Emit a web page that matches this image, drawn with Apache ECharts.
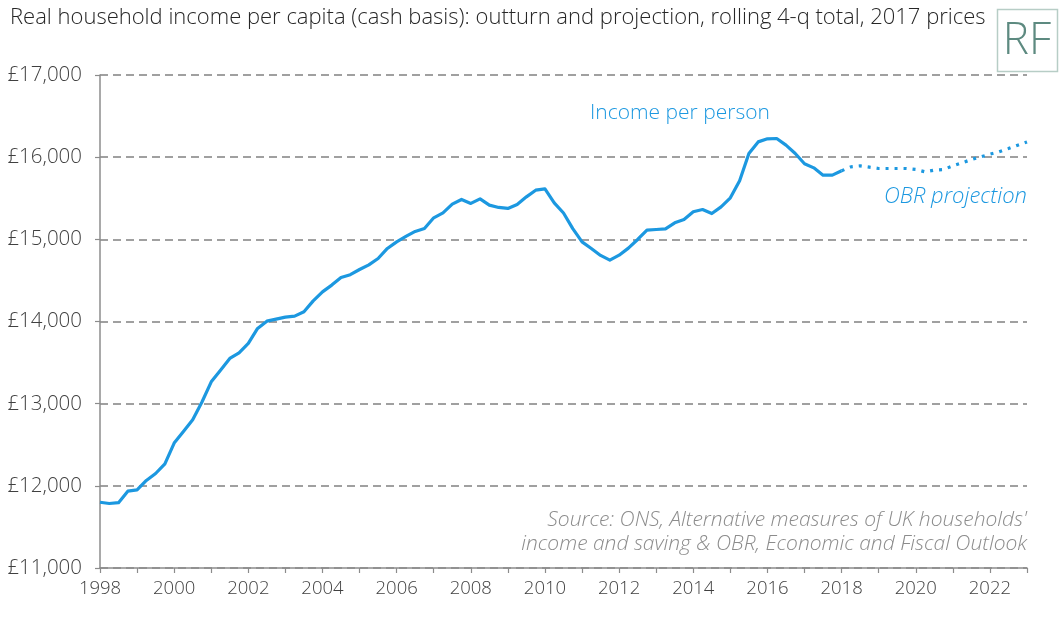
<!DOCTYPE html>
<html><head><meta charset="utf-8">
<script src="https://cdn.jsdelivr.net/npm/echarts@6/dist/echarts.min.js"></script>
<style>html,body{margin:0;padding:0;background:#fff}#c{width:1064px;height:621px}</style>
</head><body><div id="c"></div>
<script>
// Quarterly, 1998 Q1 .. 2023 Q1
var startYear = 1998;
var nQuarters = 101;
var outturn = [
11800,11785,11795,11935,11950,12065,12150,12268,12520,12662,
12805,13020,13266,13408,13550,13619,13733,13916,14004,14029,
14053,14065,14118,14251,14361,14443,14536,14570,14633,14690,
14767,14889,14969,15035,15096,15132,15262,15322,15428,15485,
15437,15493,15416,15388,15376,15424,15517,15598,15614,15444,
15320,15130,14969,14889,14804,14747,14807,14893,14998,15112,
15120,15128,15201,15242,15335,15363,15314,15395,15505,15712,
16045,16186,16223,16227,16146,16045,15920,15870,15781,15781,
15834
];
var projection = [
15834,15882,15894,15878,15862,15862,15862,15862,15850,15821,
15842,15850,15894,15931,15972,16004,16036,16065,16105,16146,
16186
];
var yearLabels = ['1998','2000','2002','2004','2006','2008','2010','2012','2014','2016','2018','2020','2022'];

var categories = [];
for (var i = 0; i < nQuarters; i++) {
  categories.push((startYear + Math.floor(i / 4)) + ' Q' + (i % 4 + 1));
}
var projSeries = [];
for (var i = 0; i < nQuarters; i++) {
  var k = i - (outturn.length - 1);
  projSeries.push(k >= 0 ? projection[k] : null);
}

var FONT = '"Open Sans"';
var chart = echarts.init(document.getElementById('c'), null, {renderer: 'canvas'});
chart.setOption({
  animation: false,
  backgroundColor: '#ffffff',
  grid: {left: 100, right: 37, top: 75, bottom: 53, containLabel: false},
  xAxis: {
    type: 'category',
    data: categories,
    boundaryGap: false,
    axisLine: {lineStyle: {color: '#8c8c8c', width: 1.5}},
    axisTick: {
      show: true, length: 5, lineStyle: {color: '#8c8c8c', width: 1.2},
      interval: function (idx) { return idx % 4 === 0; }
    },
    axisLabel: {
      color: '#404040', fontFamily: FONT, fontWeight: 300, fontSize: 18.5, margin: 11,
      interval: function (idx) { return idx % 4 === 0; },
      formatter: function (val) {
        var y = val.split(' ')[0];
        return (val.indexOf('Q1') > 0 && yearLabels.indexOf(y) >= 0) ? y : '';
      }
    },
    splitLine: {show: false}
  },
  yAxis: {
    type: 'value',
    min: 11000, max: 17000, interval: 1000,
    axisLine: {show: true, lineStyle: {color: '#8c8c8c', width: 1.5}},
    axisTick: {show: true, length: 5, lineStyle: {color: '#8c8c8c', width: 1.2}},
    axisLabel: {
      color: '#404040', fontFamily: FONT, fontWeight: 300, fontSize: 20.5, margin: 18,
      formatter: function (v) { return '£' + v.toLocaleString('en-GB'); }
    },
    splitLine: {show: true, lineStyle: {color: '#a0a0a0', width: 1.8, type: [8, 5]}}
  },
  series: [
    {
      name: 'Income per person', type: 'line', data: outturn,
      showSymbol: false, symbol: 'none',
      lineStyle: {color: '#1c98e0', width: 3.2, join: 'round'}
    },
    {
      name: 'OBR projection', type: 'line', data: projSeries,
      showSymbol: false, symbol: 'none', connectNulls: false,
      lineStyle: {color: '#1c98e0', width: 3.2, type: [3, 6], cap: 'butt'}
    }
  ],
  graphic: [
    {type: 'text', left: 10, top: 7, style: {text: 'Real household income per capita (cash basis): outturn and projection, rolling 4-q total, 2017 prices', fill: '#262626', font: '300 22px ' + FONT}},
    {type: 'rect', shape: {x: 997.5, y: 9.5, width: 60, height: 62}, style: {fill: '#fff', stroke: '#b7cdc6', lineWidth: 1.5}},
    {type: 'text', x: 1027, y: 41, style: {text: 'RF', fill: '#5d8a80', font: '300 44px ' + FONT, textAlign: 'center', textVerticalAlign: 'middle'}},
    {type: 'text', left: 590, top: 103, style: {text: 'Income per person', fill: '#1c98e0', font: '300 21px ' + FONT}},
    {type: 'text', right: 37, top: 186, style: {text: 'OBR projection', fill: '#1c98e0', font: 'italic 300 22px ' + FONT, textAlign: 'right'}},
    {type: 'text', right: 37, top: 510, style: {text: "Source: ONS, Alternative measures of UK households'", fill: '#8c8c8c', font: 'italic 300 21px ' + FONT, textAlign: 'right'}},
    {type: 'text', right: 37, top: 534, style: {text: 'income and saving & OBR, Economic and Fiscal Outlook', fill: '#8c8c8c', font: 'italic 300 21px ' + FONT, textAlign: 'right'}}
  ]
});
</script>
</body></html>
